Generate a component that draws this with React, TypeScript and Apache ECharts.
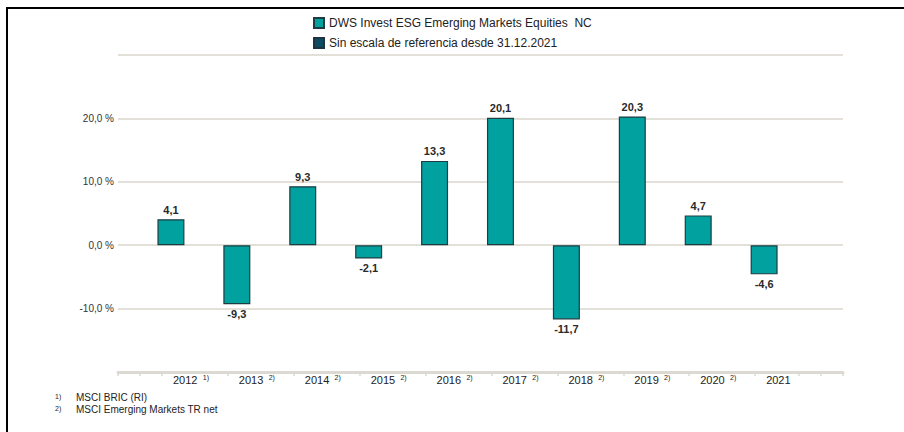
import React, { useEffect, useRef } from "react";
import * as echarts from "echarts";

const categories = ["2012", "2013", "2014", "2015", "2016", "2017", "2018", "2019", "2020", "2021", ""];
const footnoteRefs = ["1)", "2)", "2)", "2)", "2)", "2)", "2)", "2)", "2)", "", ""];
const fundValues = [4.1, -9.3, 9.3, -2.1, 13.3, 20.1, -11.7, 20.3, 4.7, -4.6];
const benchValues: (number | null)[] = [null, null, null, null, null, null, null, null, null, null];
const fundName = "DWS Invest ESG Emerging Markets Equities  NC";
const benchName = "Sin escala de referencia desde 31.12.2021";
const footnotes = [
  { ref: "1)", text: "MSCI BRIC (RI)" },
  { ref: "2)", text: "MSCI Emerging Markets TR net" },
];
// tick sub-grid (33 thirds of a category) and which boundaries get a tick
const subSlots = Array.from({ length: 33 }, (_, i) => String(i));
const tickIdx = [0, 1, 2, 5, 8, 11, 14, 17, 20, 23, 26, 29, 31, 32];

const FONT = "Liberation Sans, Arial, Helvetica, sans-serif";

export default function App() {
  const ref = useRef<HTMLDivElement>(null);
  useEffect(() => {
    if (!ref.current) return;
    const chart = echarts.init(ref.current, undefined, { renderer: "svg" });
    const fmt = (v: number) => v.toFixed(1).replace(".", ",");
    const fundData = fundValues.map((v) => ({
      value: v,
      label: { position: v < 0 ? "bottom" : "top" },
    }));
    chart.setOption({
      animation: false,
      textStyle: { fontFamily: FONT },
      legend: {
        data: [fundName, benchName],
        orient: "vertical",
        left: 308,
        top: 12,
        itemWidth: 10,
        itemHeight: 10,
        itemGap: 8,
        icon: "rect",
        textStyle: { fontSize: 12, color: "#222", fontFamily: FONT },
      },
      grid: { left: 118, right: 61, top: 55, bottom: 60 },
      xAxis: [
        {
          type: "category",
          data: categories,
          axisLine: { show: false, onZero: false },
          axisTick: { show: false },
          axisLabel: {
            interval: 0,
            align: "left",
            margin: 2,
            padding: [0, 0, 0, 22],
            formatter: (val: string, idx: number) =>
              footnoteRefs[idx] ? `{y|${val}} {s|${footnoteRefs[idx]}}` : `{y|${val}}`,
            rich: {
              y: { fontSize: 11, color: "#222", fontFamily: FONT },
              s: { fontSize: 7, color: "#222", fontFamily: FONT, padding: [0, 0, 5, 2] },
            },
          },
        },
        {
          type: "category",
          data: subSlots,
          position: "bottom",
          axisLine: { show: true, onZero: false, lineStyle: { color: "#dcd9d2", width: 3 } },
          axisTick: {
            show: true,
            length: 4,
            interval: (i: number) => tickIdx.includes(i),
            lineStyle: { color: "#dcd9d2", width: 1.5 },
          },
          axisLabel: { show: false },
        },
      ],
      yAxis: {
        type: "value",
        min: -20,
        max: 30,
        interval: 10,
        axisLine: { show: false },
        axisTick: { show: false },
        splitLine: { lineStyle: { color: "#e3e0da", width: 2 } },
        axisLabel: {
          margin: 4,
          fontSize: 10,
          color: "#333",
          fontFamily: FONT,
          formatter: (v: number) => (v <= -20 || v >= 30 ? "" : fmt(v) + " %"),
        },
      },
      series: [
        {
          name: benchName,
          type: "bar",
          data: benchValues,
          barWidth: 27,
          barGap: "48%",
          itemStyle: { color: "#0d4b63", borderColor: "#1d3540", borderWidth: 1 },
        },
        {
          name: fundName,
          type: "bar",
          data: fundData,
          barWidth: 27,
          barGap: "48%",
          itemStyle: { color: "#00a19f", borderColor: "#1d3d42", borderWidth: 1.2 },
          label: {
            show: true,
            distance: 4,
            fontSize: 11,
            fontWeight: "bold",
            color: "#2a2a2a",
            fontFamily: FONT,
            formatter: (p: any) => fmt(p.value),
          },
        },
      ],
      graphic: [
        { type: "line", shape: { x1: 6, y1: 8, x2: 904, y2: 8 }, style: { stroke: "#000", lineWidth: 2 } },
        { type: "line", shape: { x1: 7, y1: 7, x2: 7, y2: 432 }, style: { stroke: "#000", lineWidth: 2 } },
        ...footnotes.flatMap((f, i) => [
          {
            type: "text",
            left: 55,
            top: 393 + i * 12,
            style: { text: f.ref, fontSize: 7, fill: "#222", fontFamily: FONT },
          },
          {
            type: "text",
            left: 76,
            top: 392 + i * 12,
            style: { text: f.text, fontSize: 10, fill: "#222", fontFamily: FONT },
          },
        ]),
      ],
    });
    return () => chart.dispose();
  }, []);
  return (
    <div
      ref={ref}
      style={{ position: "absolute", left: 0, top: 0, width: 904, height: 432, background: "#fff" }}
    />
  );
}
